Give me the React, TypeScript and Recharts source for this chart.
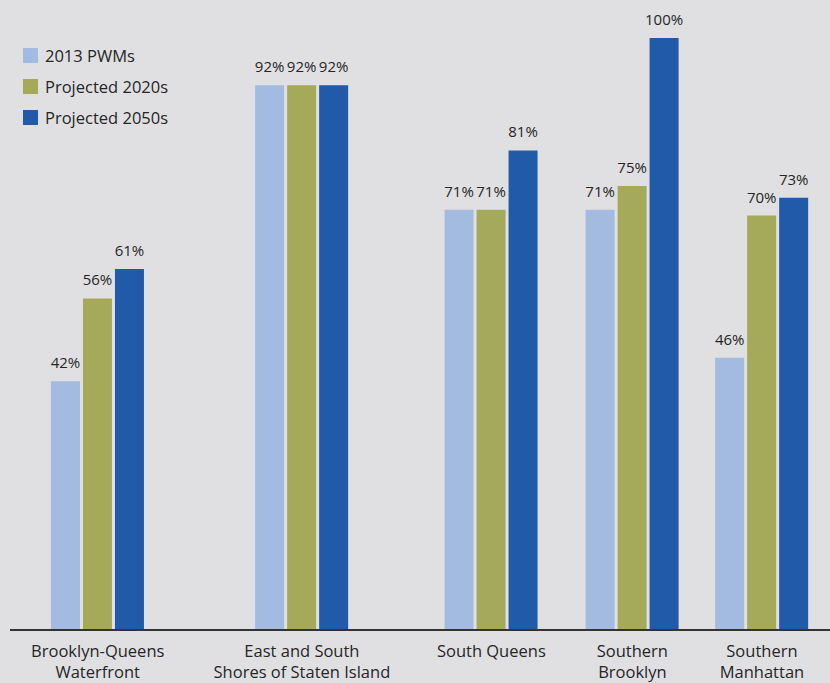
import { BarChart, Bar, XAxis, YAxis, LabelList } from "recharts"

// categories and where each group sits on the horizontal axis (axis units 0-100)
const categories = [
  "Brooklyn-Queens\nWaterfront",
  "East and South\nShores of Staten Island",
  "South Queens",
  "Southern\nBrooklyn",
  "Southern\nManhattan",
]
const groupCenters = [10.7, 35.6, 58.7, 75.9, 91.7]

const pwm2013 = [42, 92, 71, 71, 46]
const proj2020s = [56, 92, 71, 75, 70]
const proj2050s = [61, 92, 81, 100, 73]

const seriesNames = ["2013 PWMs", "Projected 2020s", "Projected 2050s"]
const colors = ["#a3bbe0", "#a5aa5a", "#215aa8"]

const data = categories.map((c, i) => ({
  name: c,
  x: groupCenters[i],
  a: pwm2013[i],
  b: proj2020s[i],
  c: proj2050s[i],
}))

const FONT = "'Open Sans', 'Noto Sans', sans-serif"

function CatTick(props: any) {
  const { x, y, payload } = props
  const idx = groupCenters.indexOf(payload.value)
  const lines = (categories[idx] || "").split("\n")
  return (
    <text x={x} y={y} textAnchor="middle" fill="#262626" fontSize={16.5} fontFamily={FONT}>
      {lines.map((l, i) => (
        <tspan key={i} x={x} dy={i === 0 ? 18.5 : 21}>{l}</tspan>
      ))}
    </text>
  )
}

function LegendBox() {
  return (
    <div style={{ position: "absolute", left: 23, top: 40, fontFamily: FONT, fontSize: 16.5, color: "#262626" }}>
      {seriesNames.map((s, i) => (
        <div key={s} style={{ display: "flex", alignItems: "center", height: 31 }}>
          <span style={{ width: 15, height: 15, background: colors[i], marginRight: 7, display: "inline-block" }} />
          {s}
        </div>
      ))}
    </div>
  )
}

export default function App() {
  const pct = (v: any) => `${v}%`
  return (
    <div style={{ position: "absolute", left: 0, top: 0, width: 830, height: 683, background: "#e0e0e3" }}>
      <BarChart
        width={830}
        height={683}
        data={data}
        margin={{ top: 38, right: 0, left: 10, bottom: 0 }}
        barGap={3}
        barSize={29}
      >
        <XAxis
          type="number"
          dataKey="x"
          domain={[0, 100]}
          ticks={groupCenters}
          tick={<CatTick />}
          tickLine={false}
          axisLine={{ stroke: "#333", strokeWidth: 2 }}
          height={53}
          interval={0}
        />
        <YAxis hide domain={[0, 100]} />
        {["a", "b", "c"].map((k, i) => (
          <Bar key={k} dataKey={k} name={seriesNames[i]} fill={colors[i]} isAnimationActive={false}>
            <LabelList dataKey={k} position="top" offset={13} formatter={pct} fill="#262626" fontSize={15} fontFamily={FONT} />
          </Bar>
        ))}
      </BarChart>
      <LegendBox />
    </div>
  )
}
